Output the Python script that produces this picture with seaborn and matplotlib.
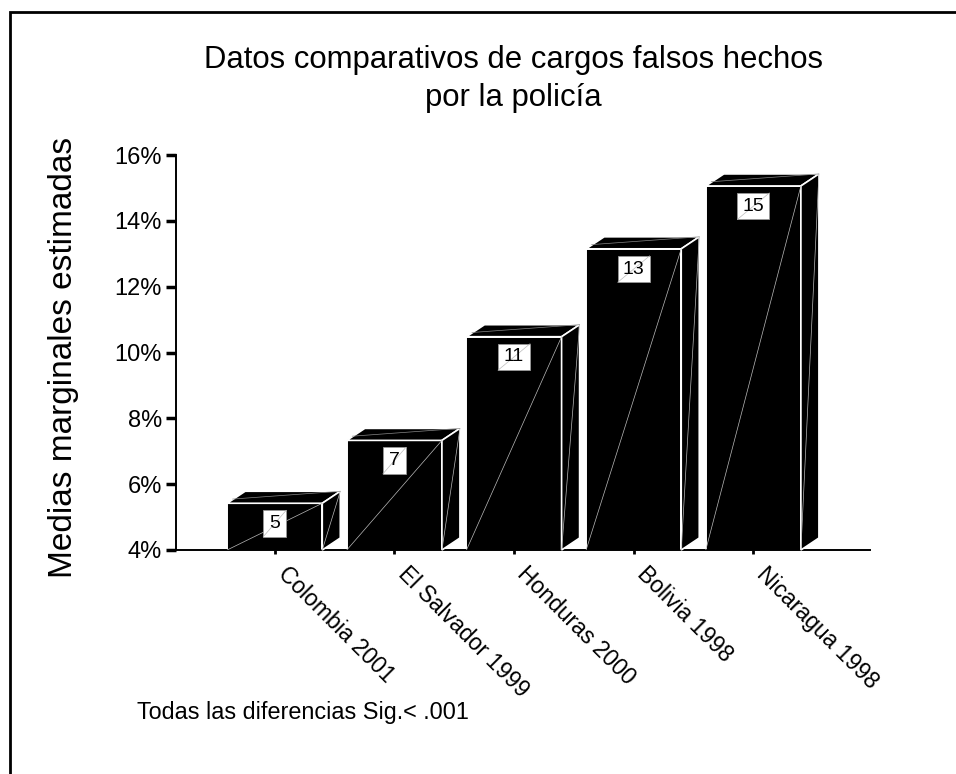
import matplotlib
matplotlib.use("Agg")
import matplotlib.pyplot as plt
import matplotlib.transforms as mtransforms
import seaborn as sns
import pandas as pd
from matplotlib.patches import Polygon, Rectangle
from matplotlib.lines import Line2D

categories = ["Colombia 2001", "El Salvador 1999", "Honduras 2000", "Bolivia 1998", "Nicaragua 1998"]
values = [5.42, 7.33, 10.48, 13.15, 15.06]
bar_labels = ["5", "7", "11", "13", "15"]
yticks = [4, 6, 8, 10, 12, 14, 16]
ytick_labels = ["4%", "6%", "8%", "10%", "12%", "14%", "16%"]
title = "Datos comparativos de cargos falsos hechos\npor la policía"
ylabel = "Medias marginales estimadas"
footnote = "Todas las diferencias Sig.< .001"

sns.set_theme(style="white")
plt.rcParams["font.family"] = ["Liberation Sans", "DejaVu Sans"]

W, H = 956, 774
fig = plt.figure(figsize=(W / 100, H / 100), dpi=100)
ax = fig.add_axes([176 / W, 1 - 550 / H, (870 - 176) / W, (550 - 155) / H])

df = pd.DataFrame({"cat": categories, "val": values})
sns.barplot(data=df, x="cat", y="val", color="black", width=0.795,
            edgecolor="white", linewidth=1.4, saturation=1, ax=ax, zorder=2)

ax.set_xlim(-0.825, 4.975)
ax.set_ylim(4, 16)

# 3D depth (px -> data)
px_x = 1 / 119.5
px_y = 1 / 32.9
dx = 18 * px_x
dy = 12 * px_y

for p, lab in zip(ax.patches, bar_labels):
    x0 = p.get_x()
    w = p.get_width()
    x1 = x0 + w
    top = p.get_y() + p.get_height()
    base = 4
    topface = Polygon([(x0, top), (x1, top), (x1 + dx, top + dy), (x0 + dx, top + dy)],
                      closed=True, facecolor="black", edgecolor="white", lw=1.2,
                      clip_on=False, zorder=3)
    ax.add_patch(topface)
    side = Polygon([(x1, base), (x1, top), (x1 + dx, top + dy), (x1 + dx, base + dy)],
                   closed=True, facecolor="black", edgecolor="white", lw=1.2,
                   clip_on=False, zorder=3)
    ax.add_patch(side)
    ax.add_line(Line2D([x0, x1], [base, top], color="#bbbbbb", lw=0.5, zorder=3))
    ax.add_line(Line2D([x1, x1 + dx], [base, top + dy], color="#bbbbbb", lw=0.5, zorder=3))
    ax.add_line(Line2D([x0 + dx * 0.3, x1 + dx], [top + dy * 0.35, top + dy], color="#888888",
                       lw=0.5, zorder=4, clip_on=False))
    cx = x0 + w / 2
    bw = (11.5 if len(lab) == 1 else 16) * px_x
    btop = top - 7 * px_y
    bh = 26.5 * px_y
    ax.add_patch(Rectangle((cx - bw, btop - bh), 2 * bw, bh, facecolor="white",
                           edgecolor="#999999", lw=0.6, zorder=5))
    ax.add_line(Line2D([cx - bw, cx + bw], [btop - bh, btop], color="#bbbbbb", lw=0.5, zorder=6))
    ax.text(cx, btop - bh / 2, lab, ha="center", va="center", fontsize=14,
            color="black", zorder=7)

for s in ["top", "right"]:
    ax.spines[s].set_visible(False)
ax.spines["left"].set_color("black")
ax.spines["bottom"].set_color("black")
ax.spines["left"].set_linewidth(1.4)
ax.spines["bottom"].set_linewidth(1.4)

ax.set_yticks(yticks)
ax.set_yticklabels(ytick_labels, fontsize=17, color="black")
ax.tick_params(axis="y", direction="out", length=7, width=2.5, color="black", pad=3, left=True,
               labelcolor="black")
ax.tick_params(axis="x", direction="out", length=3, width=2, color="black", pad=4, bottom=True,
               labelcolor="black")
ax.set_xticks(range(len(categories)))
ax.set_xticklabels(categories, rotation=-45, ha="left", va="top",
                   rotation_mode="anchor", fontsize=16.5, color="black")
off = mtransforms.ScaledTranslation(15 / 100, -3 / 100, fig.dpi_scale_trans)
for t in ax.get_xticklabels():
    t.set_transform(t.get_transform() + off)
ax.set_xlabel("")
ax.set_ylabel("")

fig.text(513 / W, 1 - 79 / H, title, ha="center", va="center", fontsize=22.4,
         linespacing=1.32, color="black")
fig.text(64 / W, 1 - 357 / H, ylabel, ha="center", va="center", rotation=90,
         fontsize=24, color="black")
fig.text(137 / W, 1 - 712 / H, footnote, ha="left", va="center", fontsize=16.8,
         color="black")

fig.add_artist(Rectangle((10 / W, -0.05), 1.1, (762 / H) + 0.05, transform=fig.transFigure,
                         fill=False, edgecolor="black", lw=2, clip_on=False))

fig.savefig("out.png", dpi=100)
